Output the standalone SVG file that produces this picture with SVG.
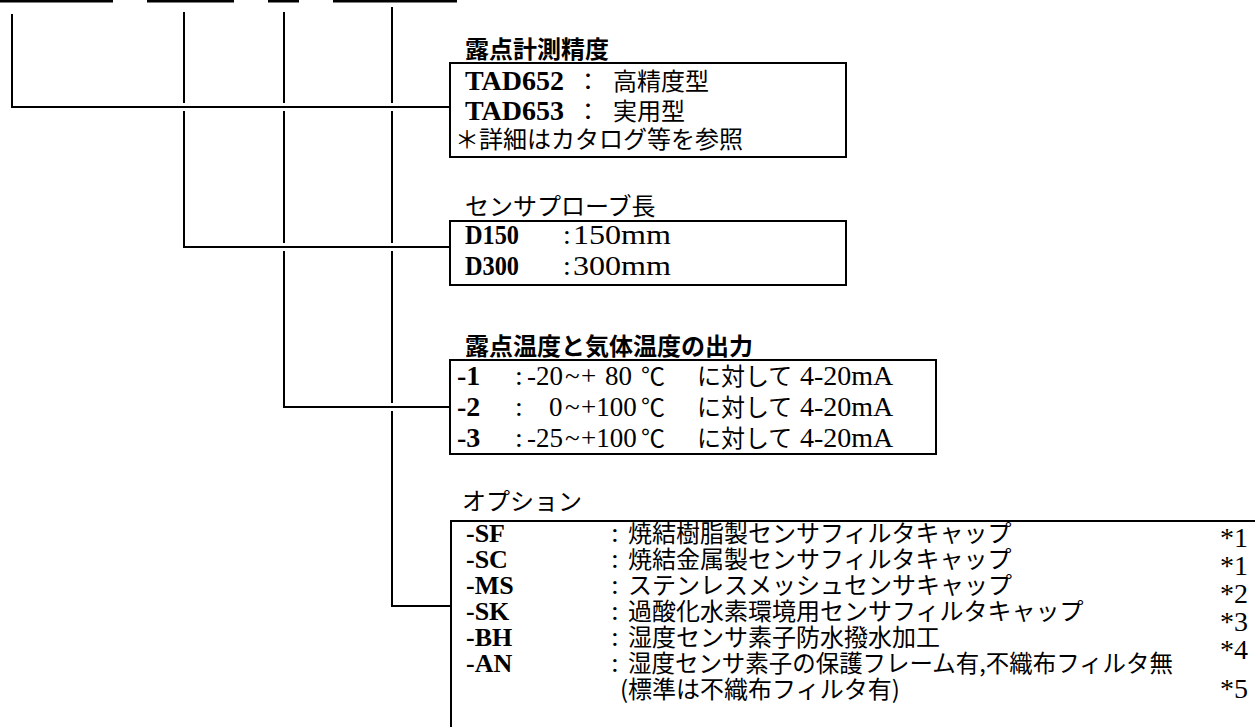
<svg xmlns="http://www.w3.org/2000/svg" width="1255" height="727" viewBox="0 0 1255 727">
<style>
.ln{stroke:#000;stroke-width:2;fill:none;stroke-linejoin:miter;stroke-linecap:butt}
.bx{fill:none;stroke:#000;stroke-width:2}
.bar{fill:#000}
.jp{font-family:"Noto Sans CJK JP","Noto Sans",sans-serif;font-size:24px;fill:#000}
.jpb{font-weight:bold}
.code{font-family:"Liberation Serif",serif;font-weight:bold;font-size:28px;fill:#000}
.opt{font-size:26px}
.lat{font-family:"Liberation Serif",serif;font-size:28px;fill:#000}
.sm{font-size:27px}
</style>
<rect width="1255" height="727" fill="#fff"/>
<g id="code-bars">
<rect class="bar" x="0" y="0" width="113" height="2.5"/>
<rect class="bar" x="147" y="0" width="87" height="2.5"/>
<rect class="bar" x="268" y="0" width="31" height="2.5"/>
<rect class="bar" x="333" y="0" width="124" height="2.5"/>
</g>
<g id="connectors">
<path class="ln" d="M12,14 V107 H450"/>
<path class="ln" d="M184,12 V103 M184,111 V247 H450"/>
<path class="ln" d="M284,12 V103 M284,111 V243 M284,251 V407 H450"/>
<path class="ln" d="M392,7 V103 M392,111 V243 M392,251 V403 M392,411 V606 H451"/>
</g>
<g id="node-accuracy">
<text class="jp jpb" x="465" y="58">露点計測精度</text>
<rect class="bx" x="450" y="63" width="396" height="94"/>
<text class="code" x="465" y="90">TAD652</text>
<text class="jp" y="90"><tspan x="576">：</tspan><tspan x="613">高精度型</tspan></text>
<text class="code" x="465" y="120">TAD653</text>
<text class="jp" y="120"><tspan x="576">：</tspan><tspan x="613">実用型</tspan></text>
<text class="jp" x="455" y="148">＊詳細はカタログ等を参照</text>
</g>
<g id="node-probe">
<text class="jp" x="465" y="215">センサプローブ長</text>
<rect class="bx" x="450" y="221" width="396" height="64"/>
<text class="code" x="465" y="244" textLength="54" lengthAdjust="spacingAndGlyphs">D150</text>
<text class="lat" x="563" y="244">:</text>
<text class="lat" x="573" y="244" textLength="98" lengthAdjust="spacingAndGlyphs">150mm</text>
<text class="code" x="465" y="275" textLength="54" lengthAdjust="spacingAndGlyphs">D300</text>
<text class="lat" x="563" y="275">:</text>
<text class="lat" x="573" y="275" textLength="98" lengthAdjust="spacingAndGlyphs">300mm</text>
</g>
<g id="node-output">
<text class="jp jpb" x="465" y="355">露点温度と気体温度の出力</text>
<rect class="bx" x="450" y="360" width="486" height="94"/>
<text class="code" x="457" y="385">-1</text>
<text class="lat" x="515" y="385">:</text>
<text class="lat sm" y="385"><tspan x="527">-20</tspan><tspan x="565">~</tspan><tspan x="581">+</tspan><tspan x="605">80</tspan></text>
<text class="jp" y="385"><tspan x="641">℃</tspan><tspan x="697">に対して</tspan></text>
<text class="lat" x="800" y="385">4-20mA</text>
<text class="code" x="457" y="416">-2</text>
<text class="lat" x="515" y="416">:</text>
<text class="lat sm" y="416"><tspan x="549">0</tspan><tspan x="565">~</tspan><tspan x="581">+100</tspan></text>
<text class="jp" y="416"><tspan x="641">℃</tspan><tspan x="697">に対して</tspan></text>
<text class="lat" x="800" y="416">4-20mA</text>
<text class="code" x="457" y="447">-3</text>
<text class="lat" x="515" y="447">:</text>
<text class="lat sm" y="447"><tspan x="527">-25</tspan><tspan x="565">~</tspan><tspan x="581">+100</tspan></text>
<text class="jp" y="447"><tspan x="641">℃</tspan><tspan x="697">に対して</tspan></text>
<text class="lat" x="800" y="447">4-20mA</text>
</g>
<g id="node-options">
<text class="jp" x="462" y="510">オプション</text>
<rect class="bx" x="451" y="521" width="820" height="230"/>
<text class="code opt" x="466" y="542">-SF</text>
<text class="code opt" x="466" y="568">-SC</text>
<text class="code opt" x="466" y="594">-MS</text>
<text class="code opt" x="466" y="620">-SK</text>
<text class="code opt" x="466" y="646">-BH</text>
<text class="code opt" x="466" y="672">-AN</text>
<text class="lat" x="611" y="542">:</text>
<text class="lat" x="611" y="568">:</text>
<text class="lat" x="611" y="594">:</text>
<text class="lat" x="611" y="620">:</text>
<text class="lat" x="611" y="646">:</text>
<text class="lat" x="611" y="672">:</text>
<text class="jp" x="628" y="542">焼結樹脂製センサフィルタキャップ</text>
<text class="jp" x="628" y="568">焼結金属製センサフィルタキャップ</text>
<text class="jp" x="628" y="594">ステンレスメッシュセンサキャップ</text>
<text class="jp" x="628" y="620">過酸化水素環境用センサフィルタキャップ</text>
<text class="jp" x="628" y="646">湿度センサ素子防水撥水加工</text>
<text class="jp" x="628" y="672" textLength="545" lengthAdjust="spacingAndGlyphs">湿度センサ素子の保護フレーム有,不織布フィルタ無</text>
<text class="jp" x="620" y="698">(標準は不織布フィルタ有)</text>
<text class="lat" x="1220" y="547">*1</text>
<text class="lat" x="1220" y="575">*1</text>
<text class="lat" x="1220" y="603">*2</text>
<text class="lat" x="1220" y="631">*3</text>
<text class="lat" x="1220" y="659">*4</text>
<text class="lat" x="1220" y="698">*5</text>
</g>
</svg>
